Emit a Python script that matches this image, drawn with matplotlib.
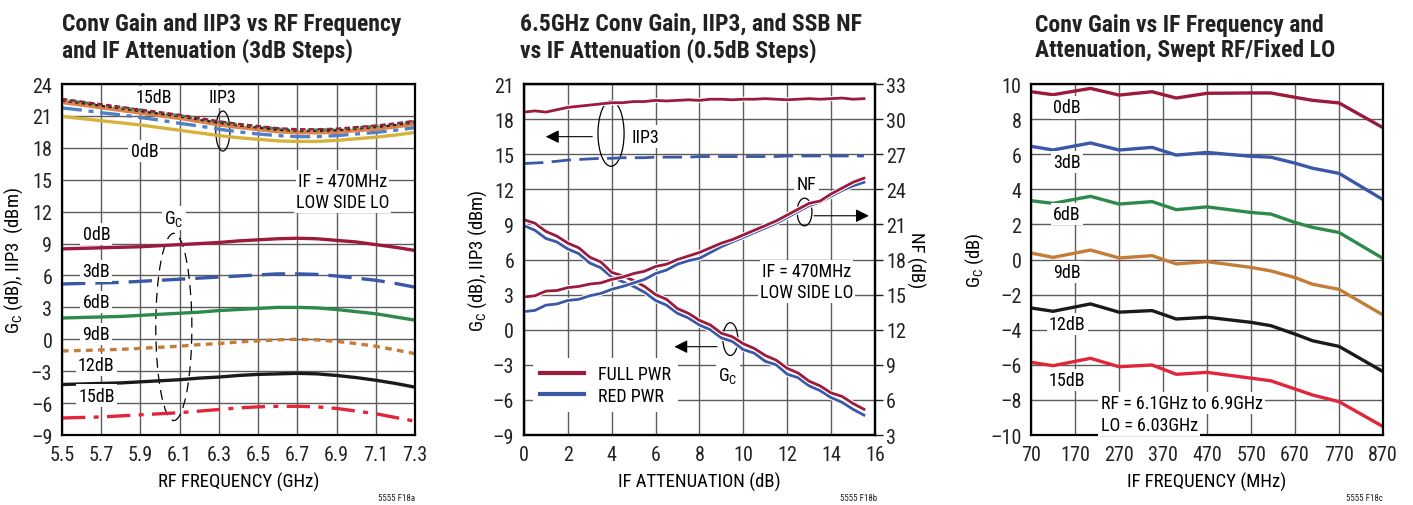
import matplotlib
matplotlib.use("Agg")
import matplotlib.pyplot as plt
from matplotlib import font_manager as fm
from matplotlib.patches import Ellipse
import matplotlib.patheffects as pe

# pick a narrow face if one is installed (reference uses a condensed sans)
narrow_name, narrow_stretch = None, 'normal'
names = {f.name for f in fm.fontManager.ttflist}
for cand in ['Liberation Sans Narrow', 'Roboto Condensed', 'Open Sans Condensed', 'DejaVu Sans Condensed']:
    if cand in names:
        narrow_name = cand
        break
if narrow_name is None:
    for fam in ['Noto Sans', 'Roboto', 'Open Sans', 'DejaVu Sans']:
        for f in fm.fontManager.ttflist:
            st = f.stretch
            if f.name == fam and (st in ('condensed', 'semi-condensed', 'extra-condensed')
                                  or (isinstance(st, (int, float)) and st < 100)):
                narrow_name, narrow_stretch = fam, 'condensed' if not isinstance(st, str) else st
                break
        if narrow_name:
            break

if narrow_name:
    plt.rcParams['font.family'] = [narrow_name, 'DejaVu Sans']
    plt.rcParams['font.stretch'] = narrow_stretch
    TICK_FS, LAB_FS, ANN_FS, TITLE_FS = 14.5, 13.5, 13, 17
else:
    plt.rcParams['font.family'] = ['DejaVu Sans']
    TICK_FS, LAB_FS, ANN_FS, TITLE_FS = 12, 12, 11.5, 12.5

# ---- panel a: conv gain / IIP3 vs RF frequency ----
rf_ghz = [5.5, 5.6, 5.7, 5.8, 5.9, 6.0, 6.1, 6.2, 6.3, 6.4, 6.5, 6.6, 6.7, 6.8, 6.9, 7.0, 7.1, 7.2, 7.3]
gc_0db = [8.5, 8.55, 8.6, 8.65, 8.7, 8.8, 8.9, 9.0, 9.1, 9.25, 9.35, 9.45, 9.5, 9.45, 9.3, 9.15, 8.9, 8.65, 8.35]
gc_3db = [5.2, 5.25, 5.3, 5.35, 5.45, 5.55, 5.65, 5.75, 5.85, 5.95, 6.05, 6.15, 6.15, 6.1, 5.95, 5.75, 5.55, 5.25, 4.9]
gc_6db = [2.0, 2.05, 2.1, 2.15, 2.25, 2.35, 2.45, 2.55, 2.7, 2.8, 2.9, 3.0, 3.0, 2.95, 2.8, 2.6, 2.4, 2.1, 1.8]
gc_9db = [-1.1, -1.05, -1.0, -0.95, -0.85, -0.75, -0.65, -0.5, -0.4, -0.25, -0.15, -0.05, 0.0, -0.05, -0.2, -0.4, -0.65, -1.0, -1.35]
gc_12db = [-4.25, -4.2, -4.15, -4.1, -4.0, -3.9, -3.8, -3.65, -3.55, -3.4, -3.3, -3.25, -3.2, -3.25, -3.4, -3.6, -3.85, -4.15, -4.5]
gc_15db = [-7.4, -7.35, -7.3, -7.2, -7.1, -7.0, -6.9, -6.75, -6.6, -6.45, -6.35, -6.3, -6.3, -6.35, -6.5, -6.75, -7.0, -7.35, -7.7]
iip3_0db = [20.95, 20.75, 20.55, 20.35, 20.15, 19.9, 19.65, 19.4, 19.15, 18.95, 18.8, 18.65, 18.6, 18.6, 18.7, 18.85, 19.0, 19.2, 19.45]
iip3_3db = [21.75, 21.55, 21.3, 21.1, 20.85, 20.6, 20.3, 20.05, 19.75, 19.5, 19.3, 19.15, 19.05, 19.05, 19.15, 19.3, 19.45, 19.65, 19.9]
iip3_6db = [22.3, 22.05, 21.8, 21.55, 21.3, 21.05, 20.8, 20.5, 20.2, 19.95, 19.75, 19.55, 19.45, 19.45, 19.5, 19.65, 19.8, 20.0, 20.25]
iip3_9db = [22.45, 22.2, 21.95, 21.7, 21.45, 21.2, 20.95, 20.65, 20.35, 20.1, 19.9, 19.7, 19.6, 19.6, 19.65, 19.8, 19.95, 20.15, 20.4]
iip3_12db = [22.55, 22.3, 22.05, 21.8, 21.55, 21.3, 21.05, 20.75, 20.45, 20.2, 20.0, 19.8, 19.7, 19.7, 19.75, 19.9, 20.05, 20.25, 20.5]
iip3_15db = [22.6, 22.35, 22.1, 21.85, 21.6, 21.35, 21.1, 20.8, 20.5, 20.25, 20.05, 19.85, 19.75, 19.75, 19.8, 19.95, 20.1, 20.3, 20.55]

# ---- panel b: 6.5GHz vs IF attenuation ----
atten_db = [i * 0.5 for i in range(32)]
gc_full = [9.4, 9.1, 8.4, 8.0, 7.4, 7.0, 6.2, 5.8, 4.9, 4.6, 4.2, 3.7, 3.0, 2.6, 1.8, 1.4,
           0.8, 0.4, -0.3, -0.6, -1.2, -1.6, -2.2, -2.6, -3.3, -3.7, -4.4, -4.8, -5.4, -5.7, -6.3, -6.8]
gc_red = [8.9, 8.5, 7.8, 7.5, 6.9, 6.5, 5.7, 5.3, 4.5, 4.1, 3.7, 3.2, 2.5, 2.1, 1.4, 1.0,
          0.4, 0.0, -0.7, -1.0, -1.7, -2.0, -2.7, -3.0, -3.8, -4.1, -4.8, -5.2, -5.8, -6.2, -6.8, -7.3]
iip3_full = [18.6, 18.7, 18.6, 18.8, 19.0, 19.1, 19.2, 19.3, 19.4, 19.4, 19.5, 19.5, 19.6, 19.55, 19.6, 19.65,
             19.6, 19.7, 19.7, 19.65, 19.7, 19.7, 19.75, 19.7, 19.65, 19.7, 19.75, 19.7, 19.75, 19.8, 19.7, 19.75]
iip3_red = [14.2, 14.25, 14.3, 14.4, 14.5, 14.55, 14.6, 14.65, 14.65, 14.7, 14.7, 14.7, 14.75, 14.75, 14.75, 14.75,
            14.8, 14.8, 14.8, 14.8, 14.8, 14.8, 14.8, 14.8, 14.85, 14.85, 14.85, 14.85, 14.85, 14.85, 14.85, 14.85]
nf_full = [14.8, 14.9, 15.3, 15.35, 15.6, 15.7, 15.9, 16.0, 16.3, 16.5, 16.8, 17.0, 17.4, 17.6, 18.0, 18.3,
           18.6, 19.0, 19.4, 19.7, 20.1, 20.5, 20.9, 21.3, 21.8, 22.3, 22.8, 23.0, 23.6, 24.1, 24.6, 24.95]
nf_red = [13.55, 13.65, 14.1, 14.2, 14.5, 14.6, 14.9, 15.1, 15.45, 15.7, 16.0, 16.3, 16.8, 17.1, 17.6, 17.9,
          18.1, 18.6, 19.1, 19.5, 19.9, 20.3, 20.7, 21.1, 21.6, 22.1, 22.6, 22.9, 23.4, 23.9, 24.3, 24.6]

# ---- panel c: conv gain vs IF frequency ----
if_mhz = [70, 120, 205, 270, 345, 400, 470, 570, 615, 670, 710, 770, 870]
gcif_0db = [9.56, 9.39, 9.75, 9.37, 9.56, 9.2, 9.47, 9.49, 9.49, 9.24, 9.07, 8.92, 7.51]
gcif_3db = [6.45, 6.24, 6.64, 6.24, 6.39, 5.95, 6.1, 5.88, 5.83, 5.49, 5.2, 4.91, 3.41]
gcif_6db = [3.35, 3.2, 3.6, 3.16, 3.3, 2.84, 3.0, 2.68, 2.59, 2.11, 1.83, 1.54, 0.06]
gcif_9db = [0.37, 0.12, 0.54, 0.09, 0.22, -0.25, -0.12, -0.45, -0.65, -1.03, -1.41, -1.7, -3.16]
gcif_12db = [-2.76, -2.95, -2.53, -3.0, -2.91, -3.39, -3.29, -3.58, -3.77, -4.25, -4.63, -4.95, -6.39]
gcif_15db = [-5.86, -6.05, -5.63, -6.11, -6.01, -6.54, -6.43, -6.76, -6.91, -7.38, -7.72, -8.1, -9.52]

DRED = '#9c1a3c'
BLUE = '#3b57a7'
GREEN = '#2e8a4c'
BROWN = '#c47d38'
BLACK = '#1a1a1a'
RED = '#e2263a'
GOLD = '#d6b23c'
LBLUE = '#4f80c8'
ORANGE = '#e0804a'
GRID = '#5c5c5c'

box = dict(facecolor='white', edgecolor='none', pad=1.5)

fig = plt.figure(figsize=(14.13, 5.06), dpi=100)
ax_a = fig.add_axes([0.0439, 0.1383, 0.2498, 0.6937])
ax_b = fig.add_axes([0.3708, 0.1383, 0.2484, 0.6937])
ax_c = fig.add_axes([0.7297, 0.1383, 0.2491, 0.6937])


def style(ax):
    ax.grid(True, color=GRID, linewidth=1.0)
    ax.set_axisbelow(True)
    for s in ax.spines.values():
        s.set_linewidth(1.6)
        s.set_color('black')
    ax.tick_params(length=0, labelsize=TICK_FS, pad=7, colors='#222222')


def dash_labels(vals):
    return [str(v).replace('-', '\u2013') for v in vals]


# panel a
style(ax_a)
lw = 2.4
ax_a.plot(rf_ghz, iip3_0db, color=GOLD, lw=lw)
ax_a.plot(rf_ghz, iip3_3db, color=LBLUE, lw=lw, dashes=(6, 2, 1.5, 2))
ax_a.plot(rf_ghz, iip3_6db, color=ORANGE, lw=lw + 0.6)
ax_a.plot(rf_ghz, iip3_9db, color=BLACK, lw=1.6, dashes=(1.5, 1.5))
ax_a.plot(rf_ghz, iip3_12db, color=GREEN, lw=1.8, dashes=(1.5, 1.5))
ax_a.plot(rf_ghz, iip3_15db, color=DRED, lw=1.6, dashes=(2.5, 1.5))
ax_a.plot(rf_ghz, gc_0db, color=DRED, lw=lw)
ax_a.plot(rf_ghz, gc_3db, color=BLUE, lw=lw, dashes=(7, 3))
ax_a.plot(rf_ghz, gc_6db, color=GREEN, lw=lw)
ax_a.plot(rf_ghz, gc_9db, color=BROWN, lw=lw, dashes=(2, 1.6))
ax_a.plot(rf_ghz, gc_12db, color=BLACK, lw=lw)
ax_a.plot(rf_ghz, gc_15db, color=RED, lw=lw, dashes=(7, 2.5, 1.5, 2.5))
ax_a.set_xlim(5.5, 7.3)
ax_a.set_ylim(-9, 24)
ax_a.set_xticks([5.5, 5.7, 5.9, 6.1, 6.3, 6.5, 6.7, 6.9, 7.1, 7.3])
ax_a.set_yticks(range(-9, 25, 3))
ax_a.set_yticklabels(dash_labels(range(-9, 25, 3)))
ax_a.set_xlabel('RF FREQUENCY (GHz)', fontsize=LAB_FS, labelpad=6)
ax_a.set_ylabel(r'G$_\mathregular{C}$ (dB), IIP3  (dBm)', fontsize=LAB_FS, labelpad=4)

for txt, yv in [('0dB', 9.9), ('3dB', 6.45), ('6dB', 3.5), ('9dB', 0.5), ('12dB', -2.4), ('15dB', -5.3)]:
    ax_a.text(5.675, yv, txt, fontsize=ANN_FS, ha='center', va='center', bbox=box)
ax_a.text(5.97, 22.8, '15dB', fontsize=ANN_FS, ha='center', va='center', bbox=box)
ax_a.text(5.92, 17.7, '0dB', fontsize=ANN_FS, ha='center', va='center', bbox=box)
ax_a.text(6.32, 22.8, 'IIP3', fontsize=ANN_FS, ha='center', va='center', bbox=box)
ax_a.text(6.93, 14.9, 'IF = 470MHz', fontsize=ANN_FS, ha='center', va='center', bbox=box)
ax_a.text(6.93, 12.94, 'LOW SIDE LO', fontsize=ANN_FS, ha='center', va='center', bbox=box)
ax_a.text(6.07, 11.4, r'G$_\mathregular{C}$', fontsize=ANN_FS, ha='center', va='center', bbox=box)
ax_a.add_patch(Ellipse((6.32, 19.58), 0.072, 3.76, fill=False, ec='black', lw=0.9))
ax_a.add_patch(Ellipse((6.07, 1.16), 0.184, 17.6, fill=False, ec='black', lw=0.9, ls=(0, (8, 5))))

# panel b
style(ax_b)
ax_b2 = ax_b.twinx()
ax_b2.set_ylim(3, 33)
ax_b2.set_yticks(range(3, 34, 3))
ax_b2.tick_params(length=6, width=1, labelsize=TICK_FS, pad=2, colors='#222222', direction='out')
for s in ax_b2.spines.values():
    s.set_linewidth(1.6)
ax_b2.set_ylabel('NF (dB)', fontsize=LAB_FS, rotation=270, labelpad=14)

stroke = [pe.Stroke(linewidth=3.6, foreground='white'), pe.Normal()]
ax_b.plot(atten_db, iip3_full, color=DRED, lw=2.0, path_effects=stroke)
ax_b.plot(atten_db, iip3_red, color=BLUE, lw=2.0, dashes=(7, 3))
ax_b2.plot(atten_db, nf_red, color=BLUE, lw=2.0, path_effects=stroke)
ax_b2.plot(atten_db, nf_full, color=DRED, lw=2.0, path_effects=stroke)
ax_b.plot(atten_db, gc_red, color=BLUE, lw=2.0, path_effects=stroke, label='RED PWR')
ax_b.plot(atten_db, gc_full, color=DRED, lw=2.0, path_effects=stroke, label='FULL PWR')
ax_b.set_xlim(0, 16)
ax_b.set_ylim(-9, 21)
ax_b.set_xticks(range(0, 17, 2))
ax_b.set_yticks(range(-9, 22, 3))
ax_b.set_yticklabels(dash_labels(range(-9, 22, 3)))
ax_b.set_xlabel('IF ATTENUATION (dB)', fontsize=LAB_FS, labelpad=6)
ax_b.set_ylabel(r'G$_\mathregular{C}$ (dB), IIP3 (dBm)', fontsize=LAB_FS, labelpad=3)
h, l = ax_b.get_legend_handles_labels()
leg = ax_b.legend(h[::-1], l[::-1], loc='lower left', bbox_to_anchor=(0.0, 0.04), fontsize=ANN_FS,
                  frameon=True, facecolor='white', edgecolor='none', framealpha=1, fancybox=False,
                  handlelength=2.4, handletextpad=0.8, labelspacing=0.2, borderpad=0.4)
for ln in leg.get_lines():
    ln.set_path_effects([])
    ln.set_linewidth(3)

ax_b.annotate('', xy=(0.87, 16.5), xytext=(3.24, 16.5),
              arrowprops=dict(arrowstyle='-|>', color='black', lw=0.8, mutation_scale=20))
ax_b.text(4.92, 16.5, 'IIP3', fontsize=ANN_FS, ha='left', va='center', bbox=box)
ax_b.add_patch(Ellipse((3.97, 16.77), 1.19, 5.6, fill=False, ec='black', lw=0.9))
ax_b.annotate('', xy=(15.85, 9.74), xytext=(13.1, 9.74),
              arrowprops=dict(arrowstyle='-|>', color='black', lw=0.8, mutation_scale=20))
ax_b.text(12.88, 12.45, 'NF', fontsize=ANN_FS, ha='center', va='center', bbox=box)
ax_b.add_patch(Ellipse((12.79, 10.06), 0.68, 2.37, fill=False, ec='black', lw=0.9))
ax_b.annotate('', xy=(6.73, -1.45), xytext=(8.93, -1.45),
              arrowprops=dict(arrowstyle='-|>', color='black', lw=0.8, mutation_scale=20))
ax_b.text(9.3, -3.9, r'G$_\mathregular{C}$', fontsize=ANN_FS, ha='center', va='center', bbox=box)
ax_b.add_patch(Ellipse((9.41, -0.8), 0.68, 2.8, fill=False, ec='black', lw=0.9))
ax_b.text(12.88, 5.04, 'IF = 470MHz', fontsize=ANN_FS, ha='center', va='center', bbox=box)
ax_b.text(12.88, 3.2, 'LOW SIDE LO', fontsize=ANN_FS, ha='center', va='center', bbox=box)

# panel c
style(ax_c)
ax_c.plot(if_mhz, gcif_0db, color=DRED, lw=2.4)
ax_c.plot(if_mhz, gcif_3db, color=BLUE, lw=2.4)
ax_c.plot(if_mhz, gcif_6db, color=GREEN, lw=2.4)
ax_c.plot(if_mhz, gcif_9db, color=BROWN, lw=2.4)
ax_c.plot(if_mhz, gcif_12db, color=BLACK, lw=2.4)
ax_c.plot(if_mhz, gcif_15db, color=RED, lw=2.4)
ax_c.set_xlim(70, 870)
ax_c.set_ylim(-10, 10)
ax_c.set_xticks(range(70, 871, 100))
ax_c.set_yticks(range(-10, 11, 2))
ax_c.set_yticklabels(dash_labels(range(-10, 11, 2)))
ax_c.set_xlabel('IF FREQUENCY (MHz)', fontsize=LAB_FS, labelpad=6)
ax_c.set_ylabel(r'G$_\mathregular{C}$ (dB)', fontsize=LAB_FS, labelpad=3)
for txt, yv in [('0dB', 8.67), ('3dB', 5.57), ('6dB', 2.59), ('9dB', -0.73), ('12dB', -3.68), ('15dB', -6.85)]:
    ax_c.text(152, yv, txt, fontsize=ANN_FS, ha='center', va='center', bbox=box)
ax_c.text(228, -8.18, 'RF = 6.1GHz to 6.9GHz', fontsize=ANN_FS, ha='left', va='center', bbox=box)
ax_c.text(228, -9.41, 'LO = 6.03GHz', fontsize=ANN_FS, ha='left', va='center', bbox=box)

# titles and figure ids
titles = [(62, 'Conv Gain and IIP3 vs RF Frequency\nand IF Attenuation (3dB Steps)'),
          (520, '6.5GHz Conv Gain, IIP3, and SSB NF\nvs IF Attenuation (0.5dB Steps)'),
          (1035, 'Conv Gain vs IF Frequency and\nAttenuation, Swept RF/Fixed LO')]
for xp, t in titles:
    fig.text(xp / 1413, 1 - 38 / 506, t, fontsize=TITLE_FS, fontweight='bold', ha='left', va='center',
             linespacing=1.15, color='#222222')
for xp, t in [(415, '5555 F18a'), (877, '5555 F18b'), (1383, '5555 F18c')]:
    fig.text(xp / 1413, 1 - 499 / 506, t, fontsize=6.5, ha='right', va='center', color='#222222')

fig.savefig('out.png', dpi=100)
